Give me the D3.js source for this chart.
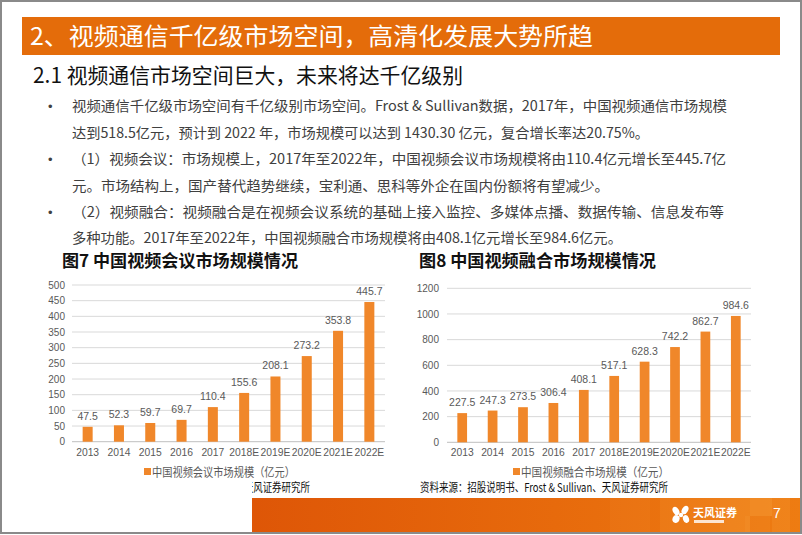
<!DOCTYPE html>
<html><head><meta charset="utf-8">
<script src="https://cdn.jsdelivr.net/npm/d3@7"></script>
<style>
html,body{margin:0;padding:0;background:#fff;}
svg{display:block;}
</style></head>
<body>
<svg id="c" width="802" height="535"></svg>
<script>
const categories = ['2013','2014','2015','2016','2017','2018E','2019E','2020E','2021E','2022E'];
const meetingValues = [47.5,52.3,59.7,69.7,110.4,155.6,208.1,273.2,353.8,445.7];
const fusionValues = [227.5,247.3,273.5,306.4,408.1,517.1,628.3,742.2,862.7,984.6];
const meetingTicks = [0,50,100,150,200,250,300,350,400,450,500];
const fusionTicks = [0,200,400,600,800,1000,1200];
const pageTitle = '2、视频通信千亿级市场空间，高清化发展大势所趋';
const subTitle = '2.1 视频通信市场空间巨大，未来将达千亿级别';
const bulletLines = [
  {t:'视频通信千亿级市场空间有千亿级别市场空间。Frost & Sullivan数据，2017年，中国视频通信市场规模', b:true, w:655},
  {t:'达到518.5亿元，预计到 2022 年，市场规模可以达到 1430.30 亿元，复合增长率达20.75%。', b:false, w:577},
  {t:'（1）视频会议：市场规模上，2017年至2022年，中国视频会议市场规模将由110.4亿元增长至445.7亿', b:true, w:654},
  {t:'元。市场结构上，国产替代趋势继续，宝利通、思科等外企在国内份额将有望减少。', b:false, w:537},
  {t:'（2）视频融合：视频融合是在视频会议系统的基础上接入监控、多媒体点播、数据传输、信息发布等', b:true, w:652},
  {t:'多种功能。2017年至2022年，中国视频融合市场规模将由408.1亿元增长至984.6亿元。', b:false, w:550}
];
const chart1Title = '图7  中国视频会议市场规模情况';
const chart2Title = '图8  中国视频融合市场规模情况';
const legend1 = '中国视频会议市场规模（亿元）';
const legend2 = '中国视频融合市场规模（亿元）';
const sourceText = '资料来源：招股说明书、Frost & Sullivan、天风证券研究所';

const svg = d3.select('#c');
const CJK = '"Noto Sans CJK SC","Noto Sans",sans-serif';
const LAT = '"Liberation Sans",Arial,sans-serif';
const BAR = '#F0872A';
const GRAY = '#595959';

// defs
const defs = svg.append('defs');
const fg = defs.append('linearGradient').attr('id','footg').attr('x1','0').attr('x2','1');
fg.append('stop').attr('offset','0').attr('stop-color','#DE5607');
fg.append('stop').attr('offset','0.55').attr('stop-color','#E76A0C');
fg.append('stop').attr('offset','1').attr('stop-color','#EE7C12');

// footer
svg.append('rect').attr('x',252).attr('y',498).attr('width',550).attr('height',35).attr('fill','url(#footg)');
[[660,498,60,35,0.10],[720,498,30,35,0.18],[750,498,22,18,0.25],[772,498,18,35,0.12],[745,516,25,17,0.08],[610,498,40,35,0.06]].forEach(d=>{
  svg.append('rect').attr('x',d[0]).attr('y',d[1]).attr('width',d[2]).attr('height',d[3]).attr('fill','#FFC060').attr('opacity',d[4]);
});
// logo flower
const lg = svg.append('g').attr('transform','translate(681,515)').attr('fill','#fff');
[[-5,-4,3,4.5,-30],[4,-5,3,4.5,30],[-5,4,3.5,4,20],[5,4,3,4,-20],[0,0,2.2,2.2,0]].forEach(p=>{
  lg.append('ellipse').attr('cx',p[0]).attr('cy',p[1]).attr('rx',p[2]).attr('ry',p[3]).attr('transform',`rotate(${p[4]},${p[0]},${p[1]})`);
});
svg.append('text').attr('x',693).attr('y',517).attr('font-family',CJK).attr('font-size',11).attr('font-weight','bold').attr('fill','#fff').text('天风证券');
svg.append('rect').attr('x',694).attr('y',520).attr('width',30).attr('height',3).attr('fill','#fff').attr('opacity',0.8);
svg.append('text').attr('x',773).attr('y',518).attr('font-family',LAT).attr('font-size',14).attr('fill','#fff').text('7');

// title bar
svg.append('rect').attr('x',22).attr('y',17).attr('width',758).attr('height',38).attr('fill','#E46C0A');
svg.append('text').attr('x',30).attr('y',45).attr('font-family',CJK).attr('font-size',24).attr('fill','#fff')
  .attr('textLength',563).attr('lengthAdjust','spacingAndGlyphs').text(pageTitle);
svg.append('text').attr('x',33).attr('y',83).attr('font-family',CJK).attr('font-size',21).attr('fill','#111')
  .attr('textLength',430).attr('lengthAdjust','spacingAndGlyphs').text(subTitle);

// bullets
const lineY = [106,133,159,186,212,238];
bulletLines.forEach((l,i)=>{
  if(l.b) svg.append('text').attr('x',48).attr('y',lineY[i]+5).attr('font-family',LAT).attr('font-size',13).attr('fill','#404040').text('•');
  svg.append('text').attr('x',72).attr('y',lineY[i]+5).attr('font-family',CJK).attr('font-size',14).attr('fill','#404040')
    .attr('textLength',l.w).attr('lengthAdjust','spacingAndGlyphs').text(l.t);
});

function drawChart(o){
  const g = svg.append('g');
  g.append('text').attr('x',o.titleX).attr('y',267).attr('font-family',CJK).attr('font-size',16.5).attr('font-weight','bold').attr('fill','#111')
    .attr('textLength',o.titleW).attr('lengthAdjust','spacingAndGlyphs').text(o.title);
  const x = d3.scaleBand().domain(categories).range([o.x0,o.x1]).paddingInner(0.68).paddingOuter(0.34);
  const y = d3.scaleLinear().domain([0,o.max]).range([o.yb,o.yt]);
  // gridlines
  g.selectAll('line.grid').data(o.ticks).join('line')
    .attr('x1',o.x0).attr('x2',o.x1).attr('y1',d=>y(d)).attr('y2',d=>y(d))
    .attr('stroke',d=>d===0?'#bfbfbf':'#d9d9d9').attr('stroke-width',1);
  // y labels
  g.selectAll('text.yl').data(o.ticks).join('text')
    .attr('x',o.labelX).attr('y',d=>y(d)+3.6).attr('text-anchor','end')
    .attr('font-family',LAT).attr('font-size',10).attr('fill',GRAY).text(d=>d);
  // bars
  g.selectAll('rect.bar').data(o.values).join('rect')
    .attr('x',(d,i)=>x(categories[i])).attr('width',x.bandwidth())
    .attr('y',d=>y(d)).attr('height',d=>y(0)-y(d)).attr('fill',BAR);
  // value labels
  g.selectAll('text.vl').data(o.values).join('text')
    .attr('x',(d,i)=>x(categories[i])+x.bandwidth()/2).attr('y',d=>y(d)-7).attr('text-anchor','middle')
    .attr('font-family',LAT).attr('font-size',10.5).attr('fill',GRAY).text(d=>d.toFixed(1));
  // x labels
  g.selectAll('text.xl').data(categories).join('text')
    .attr('x',d=>x(d)+x.bandwidth()/2).attr('y',456).attr('text-anchor','middle')
    .attr('font-family',LAT).attr('font-size',10.3).attr('fill',GRAY).text(d=>d);
  // legend
  g.append('rect').attr('x',o.legX).attr('y',468).attr('width',7).attr('height',7).attr('fill',BAR);
  g.append('text').attr('x',o.legX+8).attr('y',476.5).attr('font-family',CJK).attr('font-size',12).attr('fill',GRAY)
    .attr('textLength',o.legW).attr('lengthAdjust','spacingAndGlyphs').text(o.legend);
}
drawChart({title:chart1Title,titleX:62,titleW:236,x0:72,x1:385,yt:285,yb:441.7,max:500,ticks:meetingTicks,values:meetingValues,labelX:65,legX:144,legW:143,legend:legend1});
drawChart({title:chart2Title,titleX:419,titleW:237,x0:447,x1:751,yt:288.3,yb:442.3,max:1200,ticks:fusionTicks,values:fusionValues,labelX:439,legX:513,legW:148,legend:legend2});

// source texts
svg.append('text').attr('x',420).attr('y',492).attr('font-family',CJK).attr('font-size',12).attr('fill','#111')
  .attr('textLength',248).attr('lengthAdjust','spacingAndGlyphs').text(sourceText);
svg.append('text').attr('x',62).attr('y',492).attr('font-family',CJK).attr('font-size',12).attr('fill','#111')
  .attr('textLength',248).attr('lengthAdjust','spacingAndGlyphs').text(sourceText);
// white cover block (as in reference)
svg.append('rect').attr('x',0).attr('y',480).attr('width',252).attr('height',55).attr('fill','#fff');

// border
svg.append('rect').attr('x',1).attr('y',1).attr('width',800).attr('height',532).attr('fill','none').attr('stroke','#8a8a8a').attr('stroke-width',2);
</script>
</body></html>
